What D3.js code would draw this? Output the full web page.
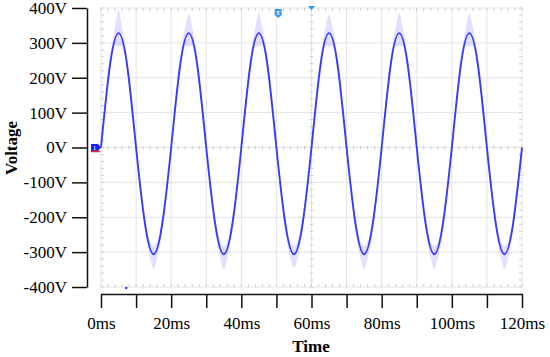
<!DOCTYPE html>
<html><head><meta charset="utf-8">
<script src="https://cdn.jsdelivr.net/npm/d3@7/dist/d3.min.js"></script>
<style>
html,body{margin:0;padding:0;background:#fff;}
svg{display:block;}
svg text{font-family:"Liberation Serif","Times New Roman",serif !important;}
</style></head>
<body><svg id="c" width="550" height="357"></svg>
<script>
// ---- data ----
const xTicksMs = [0,10,20,30,40,50,60,70,80,90,100,110,120];
const xLabelMs = [0,20,40,60,80,100,120];
const yTicksV = [400,300,200,100,0,-100,-200,-300,-400];

const timeMs = [0,2.5,5,7.5,10,12.5,15,17.5,20,22.5,25,27.5,30,32.5,35,37.5,40,42.5,45,47.5,50,52.5,55,57.5,
  60,62.5,65,67.5,70,72.5,75,77.5,80,82.5,85,87.5,90,92.5,95,97.5,100,102.5,105,107.5,110,112.5,115,117.5,120];
const voltageV = [0,232,328,232,0,-216,-306,-216, 0,232,328,232,0,-216,-306,-216, 0,232,328,232,0,-216,-306,-216,
  0,232,328,232,0,-216,-306,-216, 0,232,328,232,0,-216,-306,-216, 0,232,328,232,0,-216,-306,-216, 0];

const envTimeMs = [0,2.5,4,5,6,7.5,10,12.5,14,15,16,17.5,
  20,22.5,24,25,26,27.5,30,32.5,34,35,36,37.5,
  40,42.5,44,45,46,47.5,50,52.5,54,55,56,57.5,
  60,62.5,64,65,66,67.5,70,72.5,74,75,76,77.5,
  80,82.5,84,85,86,87.5,90,92.5,94,95,96,97.5,
  100,102.5,104,105,106,107.5,110,112.5,114,115,116,117.5,120];
const envHighV = [12,255,345,395,345,255,18,-195,-270,-282,-270,-195,
  12,255,345,382,345,255,18,-195,-270,-282,-270,-195,
  12,255,345,386,345,255,18,-195,-270,-282,-270,-195,
  12,255,345,380,345,255,18,-195,-270,-282,-270,-195,
  12,255,345,386,345,255,18,-195,-270,-282,-270,-195,
  12,255,345,384,345,255,18,-195,-270,-282,-270,-195,12];
const envLowV = [-12,208,290,290,290,208,-18,-238,-318,-348,-318,-238,
  -12,208,290,290,290,208,-18,-238,-318,-350,-318,-238,
  -12,208,290,290,290,208,-18,-238,-318,-346,-318,-238,
  -12,208,290,290,290,208,-18,-238,-318,-350,-318,-238,
  -12,208,290,290,290,208,-18,-238,-318,-348,-318,-238,
  -12,208,290,290,290,208,-18,-238,-318,-350,-318,-238,-12];

// ---- chart ----
const svg = d3.select("#c");
const L=101, R=522, T=8, B=287;
const x = d3.scaleLinear().domain([0,120]).range([L,R]);
const y = d3.scaleLinear().domain([-400,400]).range([B,T]);

// grid
const g = svg.append("g");
g.selectAll("line.v").data(xTicksMs).join("line")
  .attr("x1",d=>x(d)).attr("x2",d=>x(d)).attr("y1",T).attr("y2",B)
  .attr("stroke","#e4e4e4").attr("stroke-width",1);
g.selectAll("line.h").data(yTicksV).join("line")
  .attr("y1",d=>y(d)).attr("y2",d=>y(d)).attr("x1",L).attr("x2",R)
  .attr("stroke","#e4e4e4").attr("stroke-width",1);

// minor ticks on borders and center lines
const mx = x.ticks(60), my = y.ticks(40);
const tickCol = "#cfcfcf";
[[y(400),1],[y(-400),-1],[y(0),0]].forEach(([yy,dir])=>{
  g.selectAll(null).data(mx).join("line")
    .attr("x1",d=>x(d)).attr("x2",d=>x(d))
    .attr("y1",dir===0?yy-2:yy).attr("y2",dir===0?yy+2:yy+3*dir)
    .attr("stroke",tickCol);
});
[[x(0),1],[x(120),-1],[x(60),0]].forEach(([xx,dir])=>{
  g.selectAll(null).data(my).join("line")
    .attr("y1",d=>y(d)).attr("y2",d=>y(d))
    .attr("x1",dir===0?xx-2:xx).attr("x2",dir===0?xx+2:xx+3*dir)
    .attr("stroke",tickCol);
});

// envelope
const envData = envTimeMs.map((t,i)=>({t,hi:envHighV[i],lo:envLowV[i]}));
svg.append("path").datum(envData)
  .attr("d",d3.area().x(d=>x(d.t)).y0(d=>y(d.lo)).y1(d=>y(d.hi)).curve(d3.curveCatmullRom))
  .attr("fill","#a8a8ff").attr("opacity",0.35);

// trace
const trace = timeMs.map((t,i)=>({t,v:voltageV[i]}));
svg.append("path").datum(trace)
  .attr("d",d3.line().x(d=>x(d.t)).y(d=>y(d.v)).curve(d3.curveNatural))
  .attr("fill","none").attr("stroke","#3a3aff").attr("stroke-width",1.9);

// markers
const cy0 = y(0);
svg.append("path")
  .attr("d",`M${x(0)-10},${cy0-3.5}L${x(0)-3},${cy0-3.5}L${x(0)},${cy0}L${x(0)-3},${cy0+3.5}L${x(0)-10},${cy0+3.5}Z`)
  .attr("fill","#1e1eff");
svg.append("line").attr("x1",x(0)-10).attr("x2",x(0)-1).attr("y1",cy0+4).attr("y2",cy0+4)
  .attr("stroke","#ff2020").attr("stroke-width",1.5);
svg.append("text").attr("x",x(0)-6.5).attr("y",cy0+2.5).attr("text-anchor","middle")
  .attr("font-size",7).attr("fill","#fff").text("1");

const tx = x(50.5);
svg.append("path")
  .attr("d",`M${tx-3.5},${T+1}L${tx+3.5},${T+1}L${tx+3.5},${T+7}L${tx},${T+10}L${tx-3.5},${T+7}Z`)
  .attr("fill","#2b9af0");
svg.append("text").attr("x",tx).attr("y",T+7).attr("text-anchor","middle")
  .attr("font-size",7).attr("font-weight","bold").attr("fill","#fff").text("T");
const t2 = x(60);
svg.append("path").attr("d",`M${t2-3.5},${T-2}L${t2+3.5},${T-2}L${t2},${T+2}Z`).attr("fill","#2b9af0");
svg.append("circle").attr("cx",x(7.2)).attr("cy",y(-400)+1).attr("r",1.2).attr("fill","#2a2aff");

// axes
const yAxis = d3.axisLeft(y).tickValues(yTicksV).tickSize(15).tickSizeOuter(0).tickPadding(5)
  .tickFormat(d=>d+"V");
const ya = svg.append("g").attr("transform","translate(87,0)").call(yAxis);
const xAxis = d3.axisBottom(x).tickValues(xTicksMs).tickSize(14).tickSizeOuter(0).tickPadding(9)
  .tickFormat(d=>xLabelMs.includes(d)?d+"ms":"");
const xa = svg.append("g").attr("transform","translate(0,294)").call(xAxis);
[ya,xa].forEach(a=>{
  a.attr("font-family",null).attr("font-size",null);
  a.selectAll("path,line").attr("stroke","#111").attr("stroke-width",1.5);
  a.selectAll("text").style("font-size","17px").attr("fill","#000")
   .style("font-family","'Liberation Serif','Times New Roman',serif");
});

svg.append("text").attr("transform","translate(17,148) rotate(-90)").attr("text-anchor","middle")
  .style("font-size","17px").attr("font-weight","bold").text("Voltage");
svg.append("text").attr("x",311).attr("y",352).attr("text-anchor","middle")
  .style("font-size","17px").attr("font-weight","bold").text("Time");
</script></body></html>
